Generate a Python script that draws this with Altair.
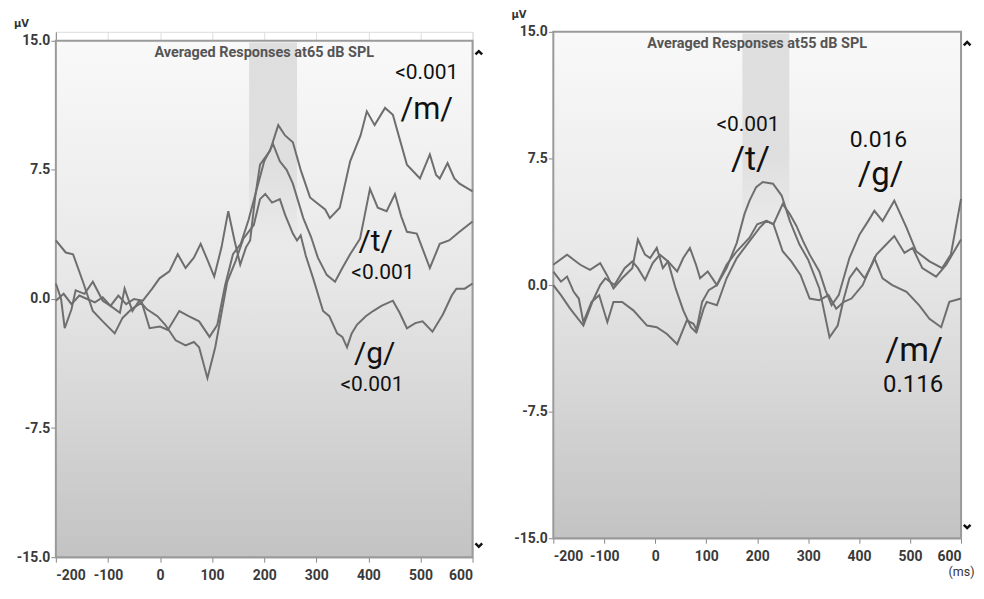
import altair as alt
import pandas as pd

# ---------------- 65 dB SPL panel ----------------
T_M65 = [-200, -185, -170, -155, -140, -125, -110, -95, -80, -65, -50, -33, -15, -1, 18, 34, 49, 65, 78, 92, 104, 118, 131, 143, 154, 165, 173, 183, 192, 211, 227, 240, 255, 270, 288, 300, 317, 326, 345, 365, 385, 397, 412, 432, 447, 460, 474, 499, 518, 530, 537, 552, 565, 575, 600]
V_M65 = [-0.1, 0.3, -0.3, 0.2, 0.0, -0.2, 0.1, -0.4, 0.2, -0.3, 0.0, -0.1, 0.6, 1.2, 1.6, 2.6, 1.8, 2.4, 3.2, 2.2, 1.3, 3.0, 5.1, 3.4, 2.0, 3.0, 3.4, 6.0, 7.8, 8.6, 10.1, 9.5, 9.1, 7.5, 5.9, 5.6, 5.2, 4.7, 5.3, 8.0, 9.5, 10.9, 10.1, 11.1, 10.7, 9.3, 7.8, 7.0, 8.4, 7.2, 7.0, 7.9, 7.0, 6.7, 6.25]

T_T65 = [-200, -181, -167, -148, -129, -110, -87, -72, -55, -35, -20, 0, 15, 37, 55, 75, 95, 110, 125, 140, 155, 170, 185, 200, 217, 230, 243, 255, 265, 275, 290, 303, 320, 336, 350, 365, 384, 403, 418, 435, 451, 463, 474, 493, 518, 537, 555, 575, 600]
V_T65 = [3.4, 2.7, 2.6, 1.0, -0.7, -1.3, -2.0, -1.1, -0.6, -0.2, -1.7, -1.6, -1.8, -0.7, -1.0, -1.3, -2.2, -1.5, 0.8, 2.6, 3.2, 4.6, 6.3, 8.0, 9.0, 8.0, 7.5, 6.7, 5.7, 4.7, 3.6, 2.4, 1.4, 1.0, 1.8, 2.6, 3.5, 6.4, 5.3, 5.1, 6.1, 4.8, 3.9, 3.8, 1.8, 3.2, 3.4, 3.9, 4.5]

T_G65 = [-200, -190, -183, -170, -162, -145, -129, -110, -95, -77, -68, -53, -40, -25, -5, 10, 30, 49, 65, 75, 91, 106, 120, 129, 145, 160, 180, 192, 202, 215, 230, 240, 255, 263, 270, 280, 294, 313, 325, 340, 350, 359, 368, 378, 395, 409, 425, 447, 460, 474, 490, 504, 523, 543, 560, 569, 585, 600]
V_G65 = [0.9, 0.0, -1.7, -0.6, 0.5, 0.3, 1.0, -0.1, -0.4, -0.8, 0.6, -0.7, -0.1, -0.6, -1.0, -1.5, -2.4, -2.7, -2.5, -2.8, -4.6, -2.8, -0.5, 1.0, 2.2, 3.5, 4.3, 5.8, 6.1, 5.6, 5.8, 4.9, 3.8, 3.4, 3.7, 2.5, 1.2, -0.7, -1.0, -2.0, -2.2, -2.8, -2.0, -1.5, -1.0, -0.7, -0.4, -0.1, -0.8, -1.7, -1.4, -1.3, -1.9, -0.9, 0.2, 0.6, 0.6, 0.9]

# ---------------- 55 dB SPL panel ----------------
T_T55 = [-200, -173, -160, -147, -128, -108, -95, -82, -65, -45, -34, -20, -10, 3, 15, 25, 43, 55, 68, 80, 88, 103, 121, 140, 160, 175, 185, 198, 211, 231, 248, 264, 283, 300, 322, 342, 358, 370, 381, 395, 411, 425, 434, 453, 469, 489, 505, 524, 551, 571, 600]
V_T55 = [1.2, 1.8, 1.5, 1.2, 0.9, 1.3, 0.6, -0.2, 0.4, 1.0, 2.7, 1.8, 1.6, 2.2, 1.0, 1.4, 0.8, 1.6, 2.2, 1.2, 0.4, 0.8, 0.0, 1.0, 2.5, 4.2, 5.0, 5.8, 6.1, 6.0, 5.3, 3.8, 2.4, 1.5, -0.2, -3.1, -2.4, -0.8, 0.4, 1.0, 0.4, 1.2, 1.8, 2.4, 2.9, 1.9, 2.2, 1.0, 0.5, 1.2, 2.7]

T_G55 = [-200, -185, -167, -141, -122, -108, -98, -80, -60, -45, -34, -20, -5, 9, 25, 40, 55, 70, 80, 92, 105, 121, 140, 160, 185, 200, 218, 232, 250, 264, 277, 290, 303, 322, 334, 346, 360, 381, 401, 418, 430, 446, 469, 493, 512, 538, 563, 580, 600]
V_G55 = [0.0, -0.6, -1.4, -2.4, -0.9, 0.0, 0.4, 0.0, 1.0, 1.4, 1.0, 0.3, 1.3, 1.8, 1.4, -0.2, -1.5, -2.5, -2.8, -1.0, -0.3, 0.0, 1.2, 2.0, 2.8, 3.6, 3.8, 3.6, 4.8, 4.2, 3.5, 2.6, 1.8, 0.8, -0.3, -1.2, -0.6, 1.6, 3.0, 3.8, 4.4, 3.8, 5.0, 3.4, 2.0, 1.4, 1.0, 1.8, 5.1]

T_M55 = [-200, -185, -173, -160, -150, -141, -125, -110, -94, -82, -65, -43, -16, 3, 23, 43, 62, 75, 82, 95, 101, 121, 140, 160, 185, 205, 218, 232, 250, 267, 285, 303, 322, 340, 355, 370, 385, 407, 430, 446, 465, 493, 518, 538, 561, 577, 600]
V_M55 = [0.8, 0.2, 0.5, -0.4, -0.8, -2.2, -1.0, -0.6, -2.2, -1.0, -1.0, -1.5, -2.4, -2.5, -2.9, -3.5, -2.1, -2.3, -2.7, -1.4, -1.0, -1.2, 0.4, 1.6, 2.6, 3.4, 3.8, 3.6, 2.0, 1.4, 0.6, -0.8, -0.9, -0.6, -1.4, -1.0, -0.8, 0.0, 1.6, 0.4, 0.0, -0.4, -1.2, -2.0, -2.5, -1.0, -0.8]

# ---------------- annotations ----------------
LAB65_TEXT = ["<0.001", "/m/", "/t/", "<0.001", "/g/", "<0.001"]
LAB65_X = [512, 512, 414, 428, 412, 407]
LAB65_Y = [13.1, 11.0, 3.3, 1.5, -3.2, -5.0]
LAB65_SIZE = [21, 31, 30, 21, 30, 21]

LAB55_TEXT = ["<0.001", "/t/", "0.016", "/g/", "/m/", "0.116"]
LAB55_X = [182, 187, 438, 442, 508, 506]
LAB55_Y = [9.45, 7.4, 8.6, 6.5, -3.9, -5.9]
LAB55_SIZE = [21, 34, 23, 33, 34, 24]

TITLE65 = "Averaged Responses at65 dB SPL"
TITLE55 = "Averaged Responses at55 dB SPL"
X_TICKS = [-200, -100, 0, 100, 200, 300, 400, 500, 600]
Y_TICKS = [-15.0, -7.5, 0.0, 7.5, 15.0]

NARROW = "Liberation Sans Narrow, Arial Narrow, Roboto, sans-serif"
LINE_COLOR = "#6e6e6e"


def make_df(series):
    rows = []
    for name, (ts, vs) in series.items():
        for t, v in zip(ts, vs):
            rows.append({"t": t, "v": v, "s": name})
    return pd.DataFrame(rows)


def panel(series, title_text, lab_text, lab_x, lab_y, lab_size, w, h, ytop, title_offset, show_ms):
    xs = alt.Scale(domain=[-200, 600], nice=False, zero=False)
    ys = alt.Scale(domain=[-15, ytop], nice=False, zero=False)
    xaxis = alt.Axis(values=X_TICKS, title=None,
                     labelExpr="(datum.value < 0 ? '-' : '') + abs(datum.value)",
                     labelPadding=6, labelFont=NARROW, labelFontSize=14, labelFontWeight="bold",
                     labelColor="#3a3a3a")
    yaxis = alt.Axis(values=Y_TICKS, title=None,
                     labelExpr="(datum.value < 0 ? '-' : '') + format(abs(datum.value), '.1f')",
                     labelPadding=1, minExtent=42, maxExtent=42, labelFont=NARROW, labelFontSize=14,
                     labelFontWeight="bold", labelColor="#3a3a3a")

    bg = alt.Chart(pd.DataFrame({"x": [-200], "x2": [600], "y": [15], "y2": [-15]})).mark_rect(
        fill=alt.LinearGradient(gradient="linear", x1=0, x2=0, y1=0, y2=1,
                                stops=[alt.GradientStop(color="#f9f9f9", offset=0),
                                       alt.GradientStop(color="#e8e8e8", offset=0.45),
                                       alt.GradientStop(color="#c3c3c3", offset=1)]),
        stroke="#9a9a9a", strokeWidth=2
    ).encode(x=alt.X("x:Q", scale=xs, axis=xaxis), x2="x2",
             y=alt.Y("y:Q", scale=ys, axis=yaxis), y2="y2")

    band = alt.Chart(pd.DataFrame({"x": [171], "x2": [263], "y": [14.9], "y2": [3]})).mark_rect(
        fill=alt.LinearGradient(gradient="linear", x1=0, x2=0, y1=0, y2=1,
                                stops=[alt.GradientStop(color="rgba(190,190,190,0.45)", offset=0),
                                       alt.GradientStop(color="rgba(190,190,190,0.35)", offset=0.6),
                                       alt.GradientStop(color="rgba(190,190,190,0)", offset=1)])
    ).encode(x="x:Q", x2="x2", y="y:Q", y2="y2")

    lines = alt.Chart(make_df(series)).mark_line(color=LINE_COLOR, strokeWidth=2).encode(
        x="t:Q", y="v:Q", detail="s:N", order="t:Q")

    ttl = alt.Chart(pd.DataFrame({"x": [200], "y": [14.3], "txt": [title_text]})).mark_text(
        font=NARROW, fontSize=14.5, fontWeight="bold", color="#555555", baseline="middle"
    ).encode(x="x:Q", y="y:Q", text="txt:N")

    labs = alt.Chart(pd.DataFrame({"x": lab_x, "y": lab_y, "txt": lab_text, "size": lab_size})).mark_text(
        font=NARROW, color="#111111", baseline="middle", align="center"
    ).encode(x="x:Q", y="y:Q", text="txt:N", size=alt.Size("size:Q", scale=None, legend=None))

    arrows = alt.Chart(pd.DataFrame({"x": [612, 612], "y": [14.3, -14.3],
                                     "shp": ["M-1,0.5L0,-0.5L1,0.5", "M-1,-0.5L0,0.5L1,-0.5"]})).mark_point(
        filled=False, color="#111111", strokeWidth=2.5, size=45, opacity=1
    ).encode(x="x:Q", y="y:Q", shape=alt.Shape("shp:N", scale=None, legend=None))

    layers = [bg, band, lines, ttl, labs, arrows]
    if show_ms:
        ms = alt.Chart(pd.DataFrame({"x": [601], "y": [-17.0], "txt": ["(ms)"]})).mark_text(
            font=NARROW, fontSize=12.5, color="#333333", baseline="middle"
        ).encode(x="x:Q", y="y:Q", text="txt:N")
        layers.append(ms)

    return alt.layer(*layers).properties(
        width=w, height=h,
        title=alt.TitleParams(text="µV", anchor="start", frame="bounds", fontSize=10,
                              fontWeight="bold", color="#333333", offset=title_offset,
                              font="DejaVu Sans"))


left = panel({"m": (T_M65, V_M65), "t": (T_T65, V_T65), "g": (T_G65, V_G65)},
             TITLE65, LAB65_TEXT, LAB65_X, LAB65_Y, LAB65_SIZE, 418, 527, 15.52, 3, False)
right = panel({"t": (T_T55, V_T55), "g": (T_G55, V_G55), "m": (T_M55, V_M55)},
              TITLE55, LAB55_TEXT, LAB55_X, LAB55_Y, LAB55_SIZE, 409, 508, 15, 5, True)

chart = alt.hconcat(left, right, spacing=22).properties(
    padding={"left": 5, "top": 0, "right": 0, "bottom": 0}
).configure_view(
    stroke=None
).configure_axis(
    domain=False, grid=False, tickColor="#8a8a8a", tickSize=5, tickWidth=1
).configure(background="white")

chart.save("out.html", embed_options={"renderer": "svg", "actions": False})
